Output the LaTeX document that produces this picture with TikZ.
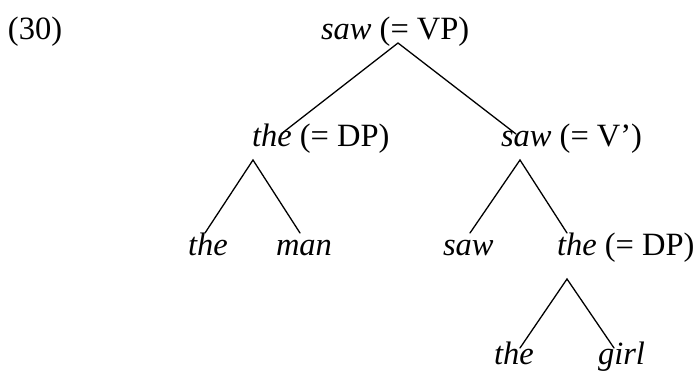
\documentclass[tikz,border=0pt]{standalone}
\usepackage{fontspec}
\setmainfont{Liberation Serif}
\begin{document}
\begin{tikzpicture}[x=1pt,y=-1pt,
  lab/.style={anchor=base west,inner sep=0pt,outer sep=0pt,font=\fontsize{32.5}{38}\selectfont},
  branch/.style={line width=1.3pt,line cap=round}]
\useasboundingbox (0,0) rectangle (697,371);
% labels
\node[lab] (num) at (8,40) {(30)};
\node[lab] (vp) at (321,40) {\textit{saw} (= VP)};
\node[lab] (dp1) at (252,147) {\textit{the} (= DP)};
\node[lab] (vbar) at (501,147) {\textit{saw} (= V’)};
\node[lab] (the1) at (188,256) {\textit{the}};
\node[lab] (man) at (276,256) {\textit{man}};
\node[lab] (saw2) at (443,256) {\textit{saw}};
\node[lab] (dp2) at (557,256) {\textit{the} (= DP)};
\node[lab] (the3) at (494,365) {\textit{the}};
\node[lab] (girl) at (598,365) {\textit{girl}};
% branch end points
\coordinate (vp-b) at (398,43);
\coordinate (dp1-t) at (281,134);
\coordinate (vbar-t) at (516,134);
\coordinate (dp1-b) at (253,160);
\coordinate (the1-t) at (205,233);
\coordinate (man-t) at (300,233);
\coordinate (vbar-b) at (520,160);
\coordinate (saw2-t) at (470,233);
\coordinate (dp2-t) at (567,233);
\coordinate (dp2-b) at (567,279);
\coordinate (the3-t) at (520,348);
\coordinate (girl-t) at (614,348);
% branches
\draw[branch] (dp1-t) -- (vp-b) -- (vbar-t);
\draw[branch] (the1-t) -- (dp1-b) -- (man-t);
\draw[branch] (saw2-t) -- (vbar-b) -- (dp2-t);
\draw[branch] (the3-t) -- (dp2-b) -- (girl-t);
\end{tikzpicture}
\end{document}
